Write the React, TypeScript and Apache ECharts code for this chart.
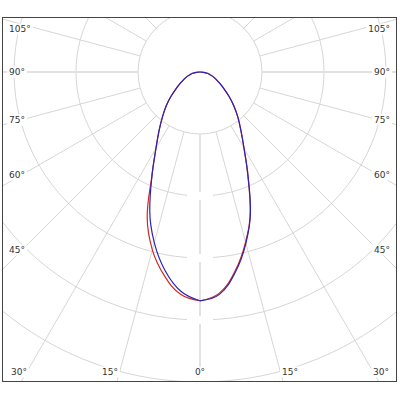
import { useEffect, useRef } from "react";
import * as echarts from "echarts";

// angle from nadir (deg), one side of the curve
const angles = [0, 5, 10, 15, 20, 25, 30, 35, 40, 45, 50, 55, 60, 65, 70, 75, 80, 85, 90];

// intensity, 100 units per ring
const redLeft = [369, 360, 333, 297, 249, 183, 142, 115, 94, 77, 61, 47, 37, 29, 23, 17, 12, 6, 0];
const redRight = [369, 358, 326, 284, 237, 182, 142, 115, 95, 77, 61, 47, 37, 29, 23, 17, 12, 6, 0];
const blueLeft = [369, 355, 325, 285, 237, 183, 142, 115, 94, 77, 61, 47, 37, 29, 23, 17, 12, 6, 0];
const blueRight = [369, 360, 328, 286, 238, 183, 142, 115, 95, 77, 61, 47, 37, 29, 23, 17, 12, 6, 0];

const sideLabels = ["105°", "90°", "75°", "60°", "45°"];
const bottomLabels = ["30°", "15°", "0°", "15°", "30°"];

const CX = 197;
const CY = 54;
const RING = 62;
const R_OUT = RING * 6;
const GRID = "#d6d6d6";
const FONT = '9px "DejaVu Sans"';

function loop(left: number[], right: number[]) {
  const a = left.map((v, i) => [v, angles[i]]);
  const b = right.map((v, i) => [v, 360 - angles[i]]).reverse();
  return a.concat(b);
}

export default function App() {
  const ref = useRef<HTMLDivElement | null>(null);

  useEffect(() => {
    if (!ref.current) return;
    const chart = echarts.init(ref.current, null, { renderer: "svg" });

    const sideY = [11, 54, 102, 157, 232];
    const bottomX = [6, 107, 197, 287, 388];
    const bottomAlign = ["left", "center", "center", "center", "right"];

    const labelStyle = {
      fill: "#333",
      font: FONT,
      verticalAlign: "middle",
      backgroundColor: "#fff",
      padding: [1, 2],
    };

    const graphic: any[] = [];
    // blank boxes where the nadir line meets the rings
    [2, 3, 4, 5].forEach((k) => {
      graphic.push({
        type: "rect",
        z: 1,
        shape: { x: CX - 13, y: CY + k * RING - 4, width: 26, height: 8 },
        style: { fill: "#fff" },
      });
    });
    sideLabels.forEach((t, i) => {
      graphic.push({ type: "text", z: 5, style: { ...labelStyle, text: t, x: 4, y: sideY[i], align: "left" } });
      graphic.push({ type: "text", z: 5, style: { ...labelStyle, text: t, x: 389, y: sideY[i], align: "right" } });
    });
    bottomLabels.forEach((t, i) => {
      graphic.push({
        type: "text",
        z: 5,
        style: { ...labelStyle, text: t, x: bottomX[i], y: 354, align: bottomAlign[i] },
      });
    });

    const hiddenAngle = { type: "value", min: 0, max: 360, startAngle: 270, clockwise: true };

    chart.setOption({
      animation: false,
      polar: [
        { center: [CX, CY], radius: [RING, R_OUT] },
        { center: [CX, CY], radius: R_OUT },
        { center: [CX, CY], radius: [RING, R_OUT] },
      ],
      angleAxis: [
        {
          ...hiddenAngle,
          polarIndex: 0,
          interval: 15,
          axisLine: { show: false },
          axisTick: { show: false },
          axisLabel: { show: false },
          splitLine: { show: true, lineStyle: { color: GRID, width: 1 } },
        },
        { ...hiddenAngle, polarIndex: 1, show: false },
        {
          ...hiddenAngle,
          polarIndex: 2,
          interval: 90,
          axisLine: { show: false },
          axisTick: { show: false },
          axisLabel: { show: false },
          splitLine: { show: true, lineStyle: { color: "#e2e2e2", width: 2 } },
        },
      ],
      radiusAxis: [
        {
          polarIndex: 0,
          type: "value",
          min: 100,
          max: 600,
          interval: 100,
          axisLine: { show: false },
          axisTick: { show: false },
          axisLabel: { show: false },
          splitLine: { show: true, lineStyle: { color: GRID, width: 1 } },
        },
        { polarIndex: 1, type: "value", min: 0, max: 600, show: false },
        { polarIndex: 2, type: "value", min: 100, max: 600, show: false },
      ],
      graphic,
      series: [
        {
          type: "line",
          coordinateSystem: "polar",
          polarIndex: 1,
          data: loop(redLeft, redRight),
          smooth: 0.4,
          symbol: "none",
          silent: true,
          z: 3,
          lineStyle: { color: "#d0281e", width: 1.2 },
        },
        {
          type: "line",
          coordinateSystem: "polar",
          polarIndex: 1,
          data: loop(blueLeft, blueRight),
          smooth: 0.4,
          symbol: "none",
          silent: true,
          z: 4,
          lineStyle: { color: "#2b24b8", width: 1.2 },
        },
      ],
    });

    return () => chart.dispose();
  }, []);

  return (
    <div style={{ position: "fixed", left: 0, top: 0, width: 400, height: 400, background: "#fff" }}>
      <div
        style={{
          position: "absolute",
          left: 2,
          top: 17,
          width: 395,
          height: 365,
          boxSizing: "border-box",
          border: "1px solid #444",
          overflow: "hidden",
        }}
      >
        <div ref={ref} style={{ width: 393, height: 363 }} />
      </div>
    </div>
  );
}
